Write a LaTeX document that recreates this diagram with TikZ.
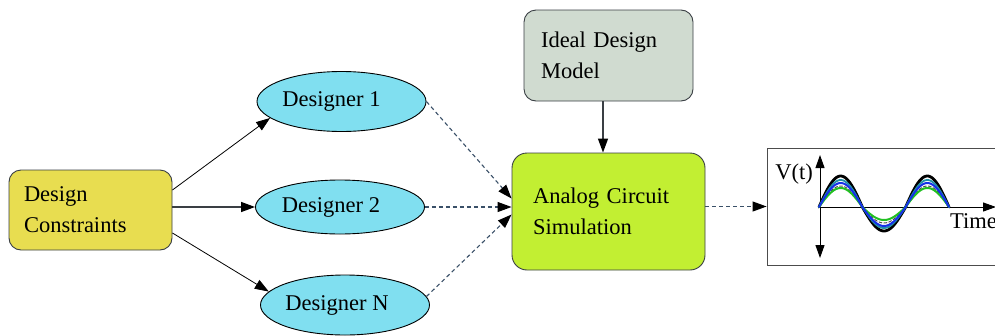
\documentclass[tikz,border=0pt]{standalone}
\usepackage{fontspec}
\setmainfont{Liberation Serif}
\newfontfamily\diagfont{Liberation Serif}
\usetikzlibrary{arrows.meta,calc,shapes.geometric}
\definecolor{dcfill}{HTML}{E8DD50}
\definecolor{ellfill}{HTML}{80DFF0}
\definecolor{idmfill}{HTML}{D0DBD0}
\definecolor{asfill}{HTML}{C2EF32}
\definecolor{edge}{HTML}{3A3F44}
\definecolor{dashcol}{HTML}{3A5068}
\definecolor{wteal}{HTML}{2090A8}
\definecolor{wblue}{HTML}{1530E8}
\definecolor{wgreen}{HTML}{22C022}
\tikzset{
  lbl/.style={font=\diagfont\fontsize{22.5}{31}\selectfont},
  boxnode/.style={lbl, draw=edge, line width=0.9pt, rectangle, align=left, inner ysep=0pt},
  ellnode/.style={lbl, draw=black, line width=0.9pt, ellipse, fill=ellfill, inner sep=0pt,
    minimum width=169pt, minimum height=60pt},
  tip/.style={-{Triangle[length=14pt,width=10pt,color=black,fill=black]}},
  solidarrow/.style={tip, draw=black, line width=0.8pt},
  darkarrow/.style={tip, draw=edge, line width=1.3pt},
  dasharrow/.style={tip, draw=dashcol, line width=1.1pt, dash pattern=on 4pt off 3pt},
  axis/.style={draw=black, line width=1pt},
  wave/.style={line width=#1, line join=round, line cap=round},
}
\begin{document}
\begin{tikzpicture}[x=1pt,y=-1pt]
\useasboundingbox (0,0) rectangle (995,335);

% boxes
\node[boxnode, fill=dcfill, rounded corners=12pt, minimum height=80pt,
      text width=133pt, inner xsep=15pt] (dc) at (90.5,210) {Design\\Constraints};
\node[boxnode, fill=idmfill, rounded corners=12pt, minimum height=91pt,
      text width=135pt, inner xsep=17pt] (idm) at (608.5,55.5) {Ideal Design\\Model};
\node[boxnode, fill=asfill, rounded corners=15pt, minimum height=117pt,
      text width=151pt, inner xsep=21pt] (as) at (608.5,211.5) {Analog Circuit\\Simulation};

% ellipses
\node[ellnode] (d1) at (341.5,101.5) {Designer 1\hspace*{20pt}};
\node[ellnode, minimum height=54pt] (d2) at (340,207) {Designer 2\hspace*{18pt}};
\node[ellnode] (dn) at (345,305) {Designer N\hspace*{16pt}};

% graph box
\node[draw=black!70, line width=0.9pt, minimum width=233pt, minimum height=117pt,
      inner sep=0pt] (gb) at (883.5,206.5) {};

% connectors
\draw[solidarrow] ($(dc.east)+(0,-20)$) -- (d1.193);
\draw[darkarrow] (dc.east |- d2.west) -- (d2.west);
\draw[solidarrow] ($(dc.east)+(0,23)$) -- (dn.170);

\draw[dasharrow] (d1.east) -- ($(as.west)+(0,-13)$);
\draw[dasharrow] (d2.east) -- (as.west |- d2.east);
\draw[dasharrow] (dn.6) -- ($(as.west)+(0,3)$);

\coordinate (idmout) at ($(idm.south)+(-5.5,0)$);
\draw[darkarrow] (idmout) -- (idmout |- as.north);
\draw[dasharrow] (as.east |- gb.west) -- (gb.west);

% plot
\coordinate (orig) at (820,207);
\draw[axis, {Triangle[length=13pt,width=9pt]}-{Triangle[length=13pt,width=9pt]}] (820,155) -- (820,258);
\draw[axis, -{Triangle[length=13pt,width=9pt]}] (orig) -- (996,207);
\node[lbl, inner sep=0pt] (vt) at (794,174) {V(t)};
\node[lbl, inner sep=0pt, anchor=base west] (tm) at (950,228) {Time};

\draw[wave=2.8pt, black] plot[domain=0:540, samples=90, smooth]
  ({819+\x/540*130}, {207 - ((sin(\x)>0) ? 31 : 24)*sin(\x)});
\draw[wave=1.8pt, wteal] plot[domain=0:540, samples=90, smooth]
  ({819+\x/540*130}, {207 - ((sin(\x)>0) ? 27 : 21)*sin(\x)});
\draw[wave=1pt, black!70, dash pattern=on 3pt off 2pt] plot[domain=0:540, samples=90, smooth]
  ({819+\x/540*130}, {207 - ((sin(\x)>0) ? 21 : 16)*sin(\x)});
\draw[wave=2pt, wgreen] plot[domain=0:540, samples=90, smooth]
  ({819+\x/540*130}, {207 - ((sin(\x)>0) ? 19 : 13)*sin(\x)});
\draw[wave=2pt, wblue] plot[domain=0:540, samples=90, smooth]
  ({819+\x/540*130}, {207 - ((sin(\x)>0) ? 24 : 19)*sin(\x)});
\end{tikzpicture}
\end{document}
